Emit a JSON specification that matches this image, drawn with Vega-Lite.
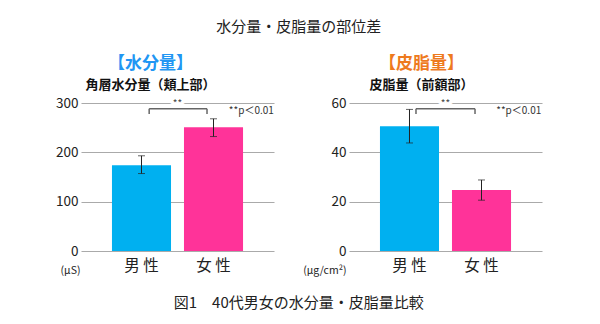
{
  "$schema": "https://vega.github.io/schema/vega-lite/v6.json",
  "background": "white",
  "padding": {"left": 55, "top": 20, "right": 10, "bottom": 10},
  "bounds": "flush",
  "config": {
    "font": "Noto Sans CJK JP",
    "view": {"stroke": null},
    "axis": {"labelFont": "Noto Sans CJK JP", "titleFont": "Noto Sans CJK JP"}
  },
  "title": {
    "text": "図1　40代男女の水分量・皮脂量比較",
    "orient": "bottom",
    "fontSize": 15,
    "fontWeight": "normal",
    "color": "#222",
    "anchor": "middle",
    "offset": 20
  },
  "vconcat": [
    {
      "title": {
        "text": "水分量・皮脂量の部位差",
        "fontSize": 15,
        "fontWeight": "normal",
        "color": "#222",
        "anchor": "middle",
        "offset": 20
      },
      "bounds": "flush",
      "spacing": 75,
      "hconcat": [
        {
          "width": 193,
          "height": 148,
          "title": {
            "text": "【水分量】",
            "subtitle": "角層水分量（頬上部）",
            "color": "#2196F3",
            "fontSize": 17,
            "fontWeight": "bold",
            "subtitleFontSize": 13,
            "subtitleFontWeight": "bold",
            "subtitleColor": "#111",
            "subtitlePadding": 6,
            "anchor": "middle",
            "dx": -27,
            "offset": 3
          },
          "data": {
            "values": [
              {"sex": "男 性", "value": 174, "lo": 157, "hi": 193},
              {"sex": "女 性", "value": 251, "lo": 232, "hi": 268}
            ]
          },
          "layer": [
            {
              "mark": {"type": "bar"},
              "encoding": {
                "x": {
                  "field": "sex", "type": "nominal",
                  "scale": {"domain": ["男 性", "女 性"], "paddingInner": 0.18, "paddingOuter": 0.43},
                  "axis": {"title": null, "labelAngle": 0, "labelFontSize": 15.5, "labelColor": "#222", "domain": false, "ticks": false, "labelPadding": 7}
                },
                "y": {
                  "field": "value", "type": "quantitative",
                  "scale": {"domain": [0, 300], "nice": false},
                  "axis": {
                    "values": [0, 100, 200, 300], "grid": true, "gridColor": "#aaa", "gridWidth": 1.2,
                    "domain": false, "ticks": false, "labelFontSize": 13.5, "labelColor": "#222", "labelPadding": 3,
                    "title": "(μS)", "titleAngle": 0, "titleX": -1, "titleY": 167, "titleAlign": "right",
                    "titleBaseline": "middle", "titleFontSize": 10.5, "titleFontWeight": "normal", "titleColor": "#222"
                  }
                },
                "color": {
                  "field": "sex", "type": "nominal",
                  "scale": {"domain": ["男 性", "女 性"], "range": ["#00B0F0", "#FF3399"]},
                  "legend": null
                }
              }
            },
            {
              "mark": {"type": "rule", "color": "#222", "strokeWidth": 1},
              "encoding": {
                "x": {"field": "sex", "type": "nominal"},
                "y": {"field": "lo", "type": "quantitative"},
                "y2": {"field": "hi"}
              }
            },
            {
              "mark": {"type": "tick", "color": "#222", "size": 7, "thickness": 1},
              "encoding": {
                "x": {"field": "sex", "type": "nominal"},
                "y": {"field": "lo", "type": "quantitative"}
              }
            },
            {
              "mark": {"type": "tick", "color": "#222", "size": 7, "thickness": 1},
              "encoding": {
                "x": {"field": "sex", "type": "nominal"},
                "y": {"field": "hi", "type": "quantitative"}
              }
            },
            {
              "data": {"values": [{"from": "男 性", "to": "女 性", "y": 288.4}]},
              "mark": {"type": "rule", "color": "#666", "strokeWidth": 1.5},
              "encoding": {
                "x": {"field": "from", "type": "nominal", "bandPosition": 0.63},
                "x2": {"field": "to", "bandPosition": 0.39},
                "y": {"field": "y", "type": "quantitative"}
              }
            },
            {
              "data": {"values": [{"pos": "男 性", "y": 288.4, "y2": 277.7}]},
              "mark": {"type": "rule", "color": "#666", "strokeWidth": 1.5},
              "encoding": {
                "x": {"field": "pos", "type": "nominal", "bandPosition": 0.63},
                "y": {"field": "y", "type": "quantitative"},
                "y2": {"field": "y2"}
              }
            },
            {
              "data": {"values": [{"pos": "女 性", "y": 288.4, "y2": 277.7}]},
              "mark": {"type": "rule", "color": "#666", "strokeWidth": 1.5},
              "encoding": {
                "x": {"field": "pos", "type": "nominal", "bandPosition": 0.39},
                "y": {"field": "y", "type": "quantitative"},
                "y2": {"field": "y2"}
              }
            },
            {
              "data": {"values": [{"pos": "男 性", "y": 298, "label": "**"}]},
              "mark": {"type": "text", "fontSize": 10, "stroke": "white", "strokeWidth": 6, "fill": "white", "baseline": "middle"},
              "encoding": {
                "x": {"field": "pos", "type": "nominal", "bandPosition": 1.11},
                "y": {"field": "y", "type": "quantitative"},
                "text": {"field": "label"}
              }
            },
            {
              "data": {"values": [{"pos": "男 性", "y": 298, "label": "**"}]},
              "mark": {"type": "text", "fontSize": 10, "color": "#444", "baseline": "middle"},
              "encoding": {
                "x": {"field": "pos", "type": "nominal", "bandPosition": 1.11},
                "y": {"field": "y", "type": "quantitative"},
                "text": {"field": "label"}
              }
            },
            {
              "data": {"values": [{"pos": "女 性", "y": 283.8, "label": "**p＜0.01"}]},
              "mark": {"type": "text", "fontSize": 10, "color": "#333", "baseline": "middle", "align": "left"},
              "encoding": {
                "x": {"field": "pos", "type": "nominal", "bandPosition": 0.76},
                "y": {"field": "y", "type": "quantitative"},
                "text": {"field": "label"}
              }
            }
          ]
        },
        {
          "width": 193,
          "height": 148,
          "title": {
            "text": "【皮脂量】",
            "subtitle": "皮脂量（前額部）",
            "color": "#EE7A1E",
            "fontSize": 17,
            "fontWeight": "bold",
            "subtitleFontSize": 13,
            "subtitleFontWeight": "bold",
            "subtitleColor": "#111",
            "subtitlePadding": 6,
            "anchor": "middle",
            "dx": -24,
            "offset": 3
          },
          "data": {
            "values": [
              {"sex": "男 性", "value": 50.6, "lo": 43.8, "hi": 57.4},
              {"sex": "女 性", "value": 24.7, "lo": 20.6, "hi": 28.8}
            ]
          },
          "layer": [
            {
              "mark": {"type": "bar"},
              "encoding": {
                "x": {
                  "field": "sex", "type": "nominal",
                  "scale": {"domain": ["男 性", "女 性"], "paddingInner": 0.18, "paddingOuter": 0.43},
                  "axis": {"title": null, "labelAngle": 0, "labelFontSize": 15.5, "labelColor": "#222", "domain": false, "ticks": false, "labelPadding": 7}
                },
                "y": {
                  "field": "value", "type": "quantitative",
                  "scale": {"domain": [0, 60], "nice": false},
                  "axis": {
                    "values": [0, 20, 40, 60], "grid": true, "gridColor": "#aaa", "gridWidth": 1.2,
                    "domain": false, "ticks": false, "labelFontSize": 13.5, "labelColor": "#222", "labelPadding": 3,
                    "title": "(μg/cm²)", "titleAngle": 0, "titleX": -3, "titleY": 167, "titleAlign": "right",
                    "titleBaseline": "middle", "titleFontSize": 10.5, "titleFontWeight": "normal", "titleColor": "#222"
                  }
                },
                "color": {
                  "field": "sex", "type": "nominal",
                  "scale": {"domain": ["男 性", "女 性"], "range": ["#00B0F0", "#FF3399"]},
                  "legend": null
                }
              }
            },
            {
              "mark": {"type": "rule", "color": "#222", "strokeWidth": 1},
              "encoding": {
                "x": {"field": "sex", "type": "nominal"},
                "y": {"field": "lo", "type": "quantitative"},
                "y2": {"field": "hi"}
              }
            },
            {
              "mark": {"type": "tick", "color": "#222", "size": 7, "thickness": 1},
              "encoding": {
                "x": {"field": "sex", "type": "nominal"},
                "y": {"field": "lo", "type": "quantitative"}
              }
            },
            {
              "mark": {"type": "tick", "color": "#222", "size": 7, "thickness": 1},
              "encoding": {
                "x": {"field": "sex", "type": "nominal"},
                "y": {"field": "hi", "type": "quantitative"}
              }
            },
            {
              "data": {"values": [{"from": "男 性", "to": "女 性", "y": 57.7}]},
              "mark": {"type": "rule", "color": "#666", "strokeWidth": 1.5},
              "encoding": {
                "x": {"field": "from", "type": "nominal", "bandPosition": 0.61},
                "x2": {"field": "to", "bandPosition": 0.39},
                "y": {"field": "y", "type": "quantitative"}
              }
            },
            {
              "data": {"values": [{"pos": "男 性", "y": 57.7, "y2": 55.5}]},
              "mark": {"type": "rule", "color": "#666", "strokeWidth": 1.5},
              "encoding": {
                "x": {"field": "pos", "type": "nominal", "bandPosition": 0.61},
                "y": {"field": "y", "type": "quantitative"},
                "y2": {"field": "y2"}
              }
            },
            {
              "data": {"values": [{"pos": "女 性", "y": 57.7, "y2": 55.5}]},
              "mark": {"type": "rule", "color": "#666", "strokeWidth": 1.5},
              "encoding": {
                "x": {"field": "pos", "type": "nominal", "bandPosition": 0.39},
                "y": {"field": "y", "type": "quantitative"},
                "y2": {"field": "y2"}
              }
            },
            {
              "data": {"values": [{"pos": "男 性", "y": 59.6, "label": "**"}]},
              "mark": {"type": "text", "fontSize": 10, "stroke": "white", "strokeWidth": 6, "fill": "white", "baseline": "middle"},
              "encoding": {
                "x": {"field": "pos", "type": "nominal", "bandPosition": 1.11},
                "y": {"field": "y", "type": "quantitative"},
                "text": {"field": "label"}
              }
            },
            {
              "data": {"values": [{"pos": "男 性", "y": 59.6, "label": "**"}]},
              "mark": {"type": "text", "fontSize": 10, "color": "#444", "baseline": "middle"},
              "encoding": {
                "x": {"field": "pos", "type": "nominal", "bandPosition": 1.11},
                "y": {"field": "y", "type": "quantitative"},
                "text": {"field": "label"}
              }
            },
            {
              "data": {"values": [{"pos": "女 性", "y": 56.8, "label": "**p＜0.01"}]},
              "mark": {"type": "text", "fontSize": 10, "color": "#333", "baseline": "middle", "align": "left"},
              "encoding": {
                "x": {"field": "pos", "type": "nominal", "bandPosition": 0.75},
                "y": {"field": "y", "type": "quantitative"},
                "text": {"field": "label"}
              }
            }
          ]
        }
      ]
    }
  ]
}
